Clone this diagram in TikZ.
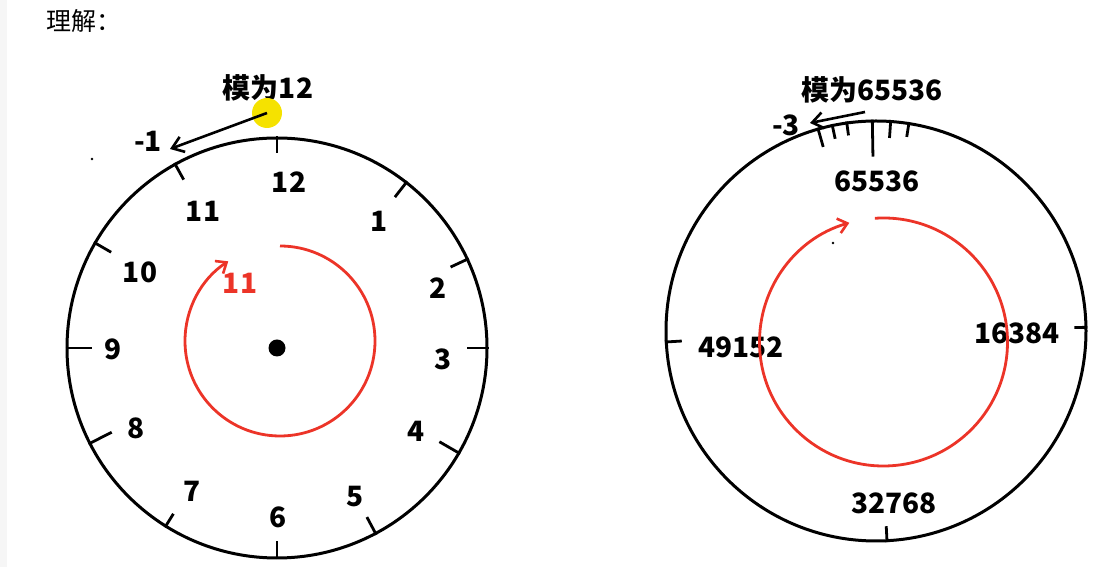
\documentclass[tikz,border=0pt]{standalone}
\usepackage{fontspec}
\setmainfont{Noto Sans CJK SC}
\usetikzlibrary{arrows.meta}
\definecolor{clkred}{RGB}{236,52,40}
\definecolor{hlyellow}{RGB}{245,226,0}

\begin{document}
\begin{tikzpicture}[x=1pt,y=1pt,
  face/.style={draw,circle,line width=3pt,inner sep=0pt,minimum size=420pt},
  tick/.style={line width=2.8pt},
  num/.style={font=\fontsize{28}{30}\selectfont\bfseries},
  loop/.style={draw=clkred,line width=2.8pt,
    -{Straight Barb[length=9pt,width=15pt,line width=2.6pt]}},
  pointer/.style={line width=2.6pt,
    -{Straight Barb[length=11pt,width=16pt,line width=2.6pt]}}]
  \useasboundingbox (0,0) rectangle (1101,567);
  \fill[gray!7] (0,0) rectangle (7,567);
  \node[anchor=west,font=\fontsize{25}{27}\selectfont] (title) at (43,546) {理解：};

  % clock with modulus 12
  \node[face] (f1) at (277,219) {};
  \fill (f1.center) circle (8.5);
  \foreach \a/\l in {90/17,52/20,25/20,0/22,-30/24,-62/20,
                     -90/18,238/16,207/26,180/26,150/20,119/19}
    \draw[tick] (f1.\a) -- ([shift={(\a:{-\l})}]f1.\a);
  \node[num] (h12) at (289,385) {12};
  \node[num] (h1)  at (379,346) {1};
  \node[num] (h2)  at (438,279) {2};
  \node[num] (h3)  at (443,208) {3};
  \node[num] (h4)  at (416,136) {4};
  \node[num] (h5)  at (355,70)  {5};
  \node[num] (h6)  at (278,50)  {6};
  \node[num] (h7)  at (192,76)  {7};
  \node[num] (h8)  at (136,139) {8};
  \node[num] (h9)  at (113,218) {9};
  \node[num] (h10) at (140,295) {10};
  \node[num] (h11) at (203,356) {11};
  \node[num,text=clkred] (steps1) at (240,284) {11};
  \coordinate (c1) at (280,226);
  \draw[loop] ([shift={(90:95)}]c1) arc[start angle=90,end angle=-237,radius=95];
  % modulus label and pointer
  \node[num] (mod1) at (268,479) {模为12};
  \node[circle,fill=hlyellow,inner sep=0pt,minimum size=30pt] (hl) at (267,454) {};
  \node[num] (neg1) at (148,426) {-1};
  \coordinate (tip1) at (170,418);
  \draw[pointer] (hl.center) -- (tip1);
  \fill (92,408) circle (1.3);

  % clock with modulus 65536
  \node[face] (f2) at (876,236) {};
  \foreach \a/\l in {91/37,1/13,-87/16,183.5/17,106/20,102/15,98/14,86/18,81/15}
    \draw[tick] (f2.\a) -- ([shift={(\a:{-\l})}]f2.\a);
  \node[num] (top2)   at (877,386)  {65536};
  \node[num] (right2) at (1017,234) {16384};
  \node[num] (left2)  at (741,220)  {49152};
  \node[num] (bot2)   at (894,64)   {32768};
  \coordinate (c2) at (883.5,225);
  \draw[loop] ([shift={(94:124)}]c2) arc[start angle=94,end angle=-254,radius=124];
  % modulus label and pointer
  \node[num] (mod2) at (872,477) {模为65536};
  \node[num] (neg3) at (786,442) {-3};
  \coordinate (from2) at (865,455);
  \coordinate (tip2) at (810,444);
  \draw[pointer] (from2) -- (tip2);
  \fill (833,324) circle (1.3);
\end{tikzpicture}
\end{document}
